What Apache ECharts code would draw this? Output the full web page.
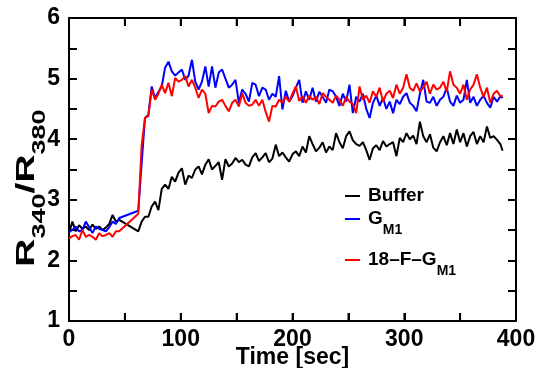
<!DOCTYPE html>
<html><head><meta charset="utf-8">
<script src="https://cdn.jsdelivr.net/npm/echarts@6/dist/echarts.min.js"></script>
<style>html,body{margin:0;padding:0;background:#fff}#c{width:537px;height:368px}</style>
</head><body><div id="c"></div>
<script>
var time = [0,3,6,9,12,15,18,21,24,27,30,33,36,39,42,45,
62,65,68,71,74,77,80,83,86,89,
92,95,98,101,104,107,110,113,116,119,
122,125,128,131,134,137,140,143,146,149,
152,155,158,161,164,167,170,173,176,179,
182,185,188,191,194,197,200,203,206,209,
212,215,218,221,224,227,230,233,236,239,
242,245,248,251,254,257,260,263,266,269,
272,275,278,281,284,287,290,293,296,299,
302,305,308,311,314,317,320,323,326,329,
332,335,338,341,344,347,350,353,356,359,
362,365,368,371,374,377,380,383,386,388];

var buffer = [2.45,2.64,2.48,2.58,2.52,2.56,2.50,2.59,2.52,2.56,2.50,2.54,2.60,2.75,2.64,2.67,
2.48,2.64,2.72,2.72,2.89,2.97,2.83,3.18,3.25,3.18,
3.38,3.30,3.45,3.52,3.25,3.40,3.36,3.50,3.55,3.42,
3.58,3.67,3.50,3.56,3.62,3.33,3.67,3.55,3.60,3.69,
3.62,3.66,3.58,3.55,3.70,3.77,3.64,3.70,3.77,3.62,
3.68,3.91,3.72,3.78,3.70,3.63,3.75,3.80,3.72,3.88,
3.78,4.05,3.92,3.80,3.86,3.95,3.78,3.88,3.82,4.10,
3.95,3.85,4.05,4.13,3.98,3.92,3.89,3.95,3.82,3.66,
3.85,3.90,3.82,3.97,3.88,3.92,3.95,3.72,4.02,3.95,
4.10,4.00,4.06,3.92,4.29,4.05,3.95,4.08,3.86,3.80,
3.95,4.05,3.90,4.10,3.92,4.16,3.95,4.10,3.88,4.05,
4.12,3.92,4.05,3.95,4.21,4.02,4.05,3.99,3.92,3.81];

var gm1 = [2.47,2.50,2.56,2.48,2.50,2.64,2.55,2.45,2.56,2.52,2.50,2.48,2.55,2.64,2.60,2.70,
2.82,3.60,4.35,4.40,4.87,4.68,4.78,4.87,5.18,5.28,
5.12,5.05,5.10,5.15,4.98,5.05,5.31,4.95,4.82,4.95,
5.20,4.87,5.20,4.85,5.10,5.15,5.00,4.85,4.90,4.98,
4.60,4.82,4.75,4.62,4.93,4.90,4.71,4.85,4.82,4.65,
4.75,4.70,5.04,4.49,4.80,4.62,4.71,4.85,4.98,4.60,
4.79,4.65,4.85,4.62,4.78,4.70,4.60,4.82,4.79,4.70,
4.55,4.75,4.62,4.90,4.43,4.70,4.62,4.75,4.50,4.35,
4.60,4.72,4.55,4.68,4.50,4.62,4.43,4.65,4.58,4.70,
4.76,4.60,4.55,4.46,4.75,4.98,4.62,4.60,4.70,4.55,
4.65,4.70,4.85,4.62,4.55,4.72,4.60,4.65,4.98,4.60,
4.70,4.55,4.65,4.72,4.60,4.52,4.70,4.62,4.71,4.68];

var fgm1 = [2.36,2.40,2.42,2.34,2.50,2.39,2.42,2.39,2.34,2.45,2.40,2.42,2.45,2.39,2.48,2.48,
2.77,3.90,4.35,4.38,4.82,4.65,4.75,4.90,4.76,4.93,
4.71,5.01,4.95,4.98,5.04,4.87,4.98,4.85,4.68,4.82,
4.75,4.43,4.55,4.54,4.62,4.65,4.55,4.46,4.60,4.65,
4.54,4.76,4.60,4.55,4.57,4.65,4.55,4.65,4.45,4.29,
4.55,4.54,4.65,4.60,4.70,4.62,4.75,4.87,4.63,4.71,
4.60,4.72,4.65,4.70,4.58,4.76,4.70,4.65,4.60,4.72,
4.65,4.55,4.70,4.62,4.58,4.43,4.87,4.65,4.72,4.60,
4.79,4.70,4.85,4.62,4.75,4.80,4.68,4.90,4.75,4.85,
5.07,4.85,4.80,4.92,4.79,4.85,4.95,4.75,4.90,4.82,
4.85,4.95,4.78,5.12,4.90,4.85,4.75,4.90,4.65,4.82,
4.90,5.07,4.85,4.70,4.85,4.60,4.75,4.80,4.71,4.72];

var xTicks = [0,100,200,300,400];
var xTickMarks = [50,100,150,200,250,300,350];
var yTicks = [1,2,3,4,5,6];

var FONT = 'Liberation Sans';
function pairs(v){ return time.map(function(t,i){ return [t, v[i]]; }); }

var chart = echarts.init(document.getElementById('c'), null, {renderer:'canvas'});
function lineAx(){ return {show:true, onZero:false, lineStyle:{color:'#000', width:2}}; }
var richLegend = {
  m:{fontSize:19, fontWeight:'bold', fontFamily:FONT, color:'#000', lineHeight:20, verticalAlign:'top'},
  s:{fontSize:14, fontWeight:'bold', fontFamily:FONT, color:'#000', lineHeight:14, verticalAlign:'top', padding:[14,0,0,0]}
};
var legendNames = {'Buffer':'{m|Buffer}', 'GM1':'{m|G}{s|M1}', '18-F-GM1':'{m|18\u2013F\u2013G}{s|M1}'};
function mkLegend(name, top){
  return {show:true, data:[name], left:345, top:top, orient:'vertical', icon:'rect',
    itemWidth:15, itemHeight:2, itemGap:0, padding:0, selectedMode:false,
    formatter:function(n){ return legendNames[n]; },
    textStyle:{rich:richLegend, padding:[0,0,0,3]}};
}
// inward x-axis tick marks on bottom (y=1) and top (y=6) frame edges
function tickSeries(yVal, offY){
  return {type:'scatter', silent:true, clip:false, z:5, legendHoverLink:false,
    data:xTickMarks.map(function(t){ return [t, yVal]; }),
    symbol:'rect', symbolSize:[2,8], symbolOffset:[0, offY],
    itemStyle:{color:'#000'}, tooltip:{show:false}};
}
chart.setOption({
  animation:false,
  backgroundColor:'#fff',
  grid:{left:69, right:21, top:18, bottom:47, containLabel:false, outerBoundsMode:'none'},
  legend:[mkLegend('Buffer',186), mkLegend('GM1',209), mkLegend('18-F-GM1',250)],
  graphic:[{type:'text', x:27, y:188, rotation:Math.PI/2, scaleX:1.5, scaleY:1, z:10,
    style:{text:'{m|R}{s|340}{m|/R}{s|380}', align:'center', verticalAlign:'middle',
      rich:{
        m:{fontSize:26, fontWeight:'bold', fontFamily:FONT, fill:'#000', lineHeight:27, verticalAlign:'top'},
        s:{fontSize:18, fontWeight:'bold', fontFamily:FONT, fill:'#000', lineHeight:18, verticalAlign:'top', padding:[18,0,0,0]}
      }}}],
  xAxis:[{type:'value', min:0, max:400, interval:50, position:'bottom',
    axisLine:lineAx(), axisTick:{show:true, inside:true, length:8, lineStyle:{color:'#000', width:2}}, splitLine:{show:false},
    axisLabel:{margin:7, fontSize:23, fontWeight:'bold', fontFamily:FONT, color:'#000',
      formatter:function(v){ return xTicks.indexOf(v)>=0 ? String(v) : ''; }},
    name:'Time [sec]', nameLocation:'middle', nameGap:25, nameMoveOverlap:false,
    nameTextStyle:{fontSize:23, fontWeight:'bold', fontFamily:FONT, color:'#000'}},
   {type:'value', min:0, max:400, interval:50, position:'top',
    axisLine:lineAx(), axisTick:{show:true, inside:true, length:8, lineStyle:{color:'#000', width:2}}, splitLine:{show:false}, axisLabel:{show:false}}],
  yAxis:[{type:'value', min:1, max:6, interval:0.5, position:'left',
    axisLine:lineAx(), axisTick:{show:true, inside:true, length:8, lineStyle:{color:'#000', width:2}}, splitLine:{show:false},
    axisLabel:{margin:9, fontSize:23, fontWeight:'bold', fontFamily:FONT, color:'#000',
      formatter:function(v){ return yTicks.indexOf(v)>=0 ? String(v) : ''; }}},
   {type:'value', min:1, max:6, interval:0.5, position:'right',
    axisLine:lineAx(), axisTick:{show:true, inside:true, length:8, lineStyle:{color:'#000', width:2}}, splitLine:{show:false}, axisLabel:{show:false}}],
  series:[
    {name:'Buffer', type:'line', data:pairs(buffer), showSymbol:false, symbol:'none', color:'#000', lineStyle:{color:'#000', width:2}},
    {name:'GM1', type:'line', data:pairs(gm1), showSymbol:false, symbol:'none', color:'#0000ff', lineStyle:{color:'#0000ff', width:2}},
    {name:'18-F-GM1', type:'line', data:pairs(fgm1), showSymbol:false, symbol:'none', color:'#ff0000', lineStyle:{color:'#ff0000', width:2}},
    tickSeries(1, -4), tickSeries(6, 4)
  ]
});
</script></body></html>
